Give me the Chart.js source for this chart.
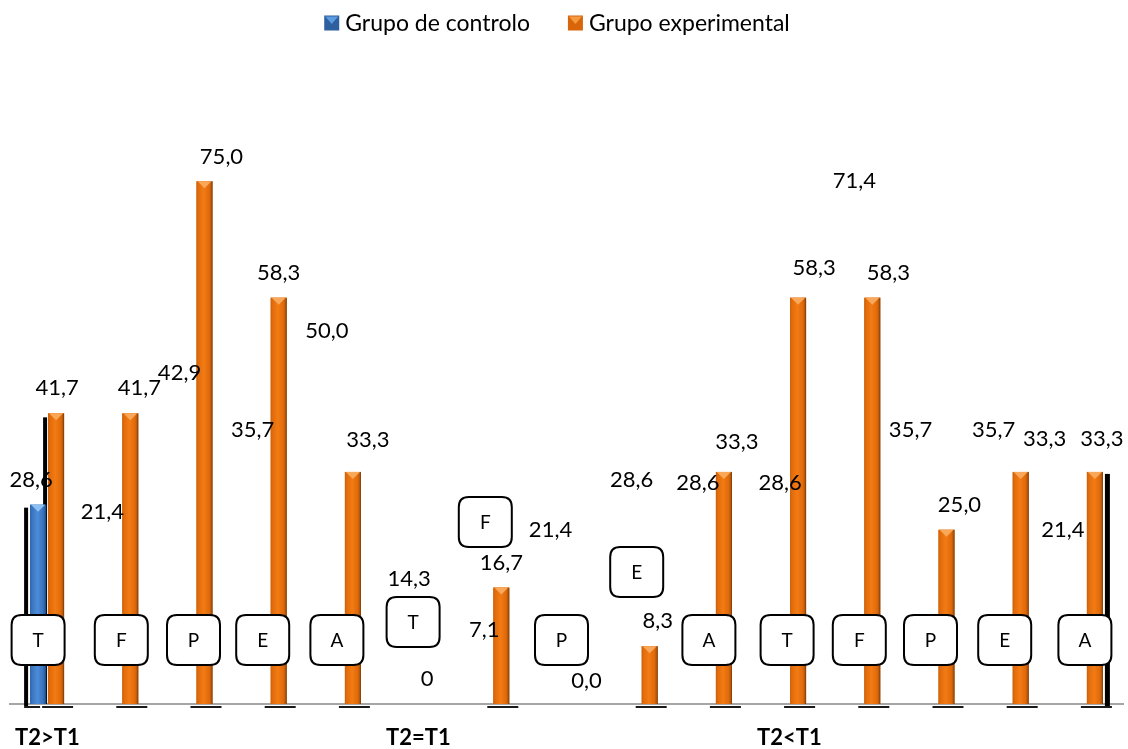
<!DOCTYPE html>
<html>
<head>
<meta charset="utf-8">
<script src="https://cdn.jsdelivr.net/npm/chart.js@4.4.1/dist/chart.umd.min.js"></script>
<style>
  html, body { margin: 0; padding: 0; background: #ffffff; }
  #wrap { width: 1128px; height: 749px; position: relative; }
</style>
</head>
<body>
<div id="wrap"><canvas id="chart" width="1128" height="749"></canvas></div>
<script>
// ---- data -------------------------------------------------------------
const categories = ['T', 'F', 'P', 'E', 'A', 'T', 'F', 'P', 'E', 'A', 'T', 'F', 'P', 'E', 'A'];
const groupNames = ['T2>T1', 'T2=T1', 'T2<T1'];
const groupSize = 5;
const seriesNames = ['Grupo de controlo', 'Grupo experimental'];
const controlValues = [28.6, 21.4, 42.9, 35.7, 50.0, 14.3, 7.1, 21.4, 28.6, 28.6, 28.6, 71.4, 35.7, 35.7, 21.4];
const experimentalValues = [41.7, 41.7, 75.0, 58.3, 33.3, 0, 16.7, 0.0, 8.3, 33.3, 58.3, 58.3, 25.0, 33.3, 33.3];
// values printed without a decimal place
const experimentalWholeLabels = [5];

// ---- layout -----------------------------------------------------------
// nudges [dx, dy] (px) of each value label from its default spot above the bar
const controlLabelShift = [[-7, 0], [-10, -18], [-7, -7], [-8, 0], [-8, 0], [0, 0], [1, 0], [-7, 0],
                           [0, 0], [-8, 3], [0, 3], [0, 0], [-18, 0], [-9, 0], [-14, 0]];
const experimentalLabelShift = [[1, 0], [9, 0], [17, 1], [0, 0], [15, -7], [0, 0], [0, 0], [11, 2],
                                [8, 0], [13, -5], [16, -5], [16, 0], [13, 0], [24, -8], [7, -8]];
// category tag boxes: horizontal nudge and height of the box centre above the axis (px)
const tagShiftX = [-9, 0, -2, -7, -7, -5, -7, -5, -4, -6, -2, -4, -7, -7, -1];
const tagLift = [64, 64, 64, 64, 64, 82, 182, 64, 132, 64, 64, 64, 64, 64, 64];

const FONT = 'Lato, "Open Sans", sans-serif';
const BLUE = '#3A74BE';
const ORANGE = '#E46C0A';

const palettes = {
  control: {
    stops: [[0, '#2F63A8'], [0.12, '#3A74BE'], [0.45, '#4C8CD8'], [0.8, '#3A74BE'], [0.92, '#2D5E9E'], [1, '#1F4273']],
    bevel: '#8DC0F2', key: '#2E5F9E', keyTop: '#5B9BE0'
  },
  experimental: {
    stops: [[0, '#C9600A'], [0.12, '#E26C0C'], [0.45, '#F27B14'], [0.8, '#E06A0A'], [0.92, '#B5560A'], [1, '#6E3505']],
    bevel: '#F9A85A', key: '#D8650A', keyTop: '#F59A40'
  }
};

const fmt = (v, whole) => whole ? String(Math.round(v)) : v.toFixed(1).replace('.', ',');

function barBox(el) {
  const p = el.getProps(['x', 'y', 'base', 'width'], true);
  return { x: p.x, top: Math.min(p.y, p.base), bottom: Math.max(p.y, p.base), w: p.width };
}

function roundRect(ctx, x, y, w, h, r) {
  ctx.beginPath();
  ctx.moveTo(x + r, y);
  ctx.lineTo(x + w - r, y);
  ctx.quadraticCurveTo(x + w, y, x + w, y + r);
  ctx.lineTo(x + w, y + h - r);
  ctx.quadraticCurveTo(x + w, y + h, x + w - r, y + h);
  ctx.lineTo(x + r, y + h);
  ctx.quadraticCurveTo(x, y + h, x, y + h - r);
  ctx.lineTo(x, y + r);
  ctx.quadraticCurveTo(x, y, x + r, y);
  ctx.closePath();
}

function barVisible(dsIndex, i) {
  if (dsIndex === 0) return i === 0;
  return experimentalValues[i] > 0;
}

const decorations = {
  id: 'decorations',
  beforeDatasetsDraw(chart) {
    const ctx = chart.ctx;
    const base = chart.scales.y.getPixelForValue(0);
    const first0 = barBox(chart.getDatasetMeta(0).data[0]);
    const first1 = barBox(chart.getDatasetMeta(1).data[0]);
    const lastMeta = chart.getDatasetMeta(1).data;
    const last1 = barBox(lastMeta[lastMeta.length - 1]);
    ctx.save();
    ctx.fillStyle = '#000000';
    // drop shadows along the outer sides of the series
    ctx.fillRect(first0.x - first0.w / 2 - 6, first0.top + 3, 4, base + 2 - first0.top - 3);
    ctx.fillRect(first1.x - first1.w / 2 - 5, first1.top + 4, 4, base - first1.top - 4);
    ctx.fillRect(last1.x + last1.w / 2 + 2, last1.top + 2, 5, base + 2 - last1.top - 2);
    ctx.restore();
  },
  afterDatasetsDraw(chart) {
    const ctx = chart.ctx;
    const xs = chart.scales.x;
    const base = chart.scales.y.getPixelForValue(0);
    const metas = [chart.getDatasetMeta(0), chart.getDatasetMeta(1)];
    const pals = [palettes.control, palettes.experimental];
    ctx.save();

    // cylinder shading and bevelled tops
    metas.forEach((meta, d) => {
      meta.data.forEach((el, i) => {
        if (!barVisible(d, i)) return;
        const b = barBox(el);
        const l = b.x - b.w / 2, r = b.x + b.w / 2, h = b.bottom - b.top;
        const g = ctx.createLinearGradient(l, 0, r, 0);
        pals[d].stops.forEach(([o, c]) => g.addColorStop(o, c));
        ctx.fillStyle = g;
        ctx.fillRect(l, b.top, b.w, h);
        const bh = Math.min(7, h);
        ctx.fillStyle = pals[d].bevel;
        ctx.beginPath();
        ctx.moveTo(l + 1, b.top);
        ctx.lineTo(r - 1, b.top);
        ctx.lineTo(b.x, b.top + bh);
        ctx.closePath();
        ctx.fill();
        // floor mark under the axis
        ctx.fillStyle = '#1a1a1a';
        if (d === 0) ctx.fillRect(b.x - 14, base + 2, 16, 2);
        else ctx.fillRect(b.x - 14, base + 2, 31, 2);
      });
    });

    // category tags
    ctx.font = '19px ' + FONT;
    ctx.textAlign = 'center';
    ctx.textBaseline = 'middle';
    categories.forEach((c, i) => {
      const cx = xs.getPixelForValue(i) + tagShiftX[i];
      const cy = base - tagLift[i];
      roundRect(ctx, cx - 26.5, cy - 25, 53, 50, 10);
      ctx.fillStyle = '#ffffff';
      ctx.fill();
      ctx.lineWidth = 2;
      ctx.strokeStyle = '#000000';
      ctx.stroke();
      ctx.fillStyle = '#000000';
      ctx.fillText(c, cx, cy + 1);
    });

    // value labels
    ctx.font = '22px ' + FONT;
    ctx.fillStyle = '#000000';
    const series = [
      { meta: metas[0], values: controlValues, shift: controlLabelShift, whole: [] },
      { meta: metas[1], values: experimentalValues, shift: experimentalLabelShift, whole: experimentalWholeLabels }
    ];
    series.forEach(s => {
      s.meta.data.forEach((el, i) => {
        const p = el.getProps(['x', 'y'], true);
        const [dx, dy] = s.shift[i];
        ctx.fillText(fmt(s.values[i], s.whole.includes(i)), p.x + dx, p.y - 25 + dy);
      });
    });

    // group captions under the axis
    ctx.font = 'bold 22px ' + FONT;
    ctx.textAlign = 'left';
    groupNames.forEach((g, k) => {
      const x0 = xs.getPixelForValue(k * groupSize) - 32;
      ctx.fillText(g, x0, 738);
    });
    ctx.restore();
  },
  afterDraw(chart) {
    // legend
    const ctx = chart.ctx;
    const pals = [palettes.control, palettes.experimental];
    ctx.save();
    ctx.font = '23px ' + FONT;
    ctx.textBaseline = 'middle';
    ctx.textAlign = 'left';
    const box = 15, gapText = 6, gapItem = 38;
    const widths = seriesNames.map(n => box + gapText + ctx.measureText(n).width);
    const total = widths[0] + gapItem + widths[1];
    let x = 557 - total / 2;
    const cy = 23;
    seriesNames.forEach((n, k) => {
      ctx.fillStyle = pals[k].key;
      ctx.fillRect(x, cy - 7.5, box, box);
      ctx.fillStyle = pals[k].keyTop;
      ctx.beginPath();
      ctx.moveTo(x + 1, cy - 6.5);
      ctx.lineTo(x + box - 1, cy - 6.5);
      ctx.lineTo(x + box / 2, cy + 1);
      ctx.closePath();
      ctx.fill();
      ctx.fillStyle = '#000000';
      ctx.fillText(n, x + box + gapText, cy + 1);
      x += widths[k] + gapItem;
    });
    ctx.restore();
  }
};

new Chart(document.getElementById('chart'), {
  type: 'bar',
  data: {
    labels: categories,
    datasets: [
      {
        label: seriesNames[0],
        data: controlValues,
        backgroundColor: controlValues.map((_, i) => (i === 0 ? BLUE : 'rgba(0,0,0,0)')),
        borderWidth: 0,
        categoryPercentage: 0.485,
        barPercentage: 0.89
      },
      {
        label: seriesNames[1],
        data: experimentalValues,
        backgroundColor: ORANGE,
        borderWidth: 0,
        categoryPercentage: 0.485,
        barPercentage: 0.89
      }
    ]
  },
  options: {
    responsive: false,
    animation: false,
    devicePixelRatio: 1,
    events: [],
    layout: { padding: { top: 146.4, left: 10, right: 5, bottom: 45 } },
    plugins: { legend: { display: false }, tooltip: { enabled: false } },
    scales: {
      x: {
        display: true,
        grid: { display: false, drawTicks: false },
        ticks: { display: false },
        border: { display: true, color: '#A6A6A6', width: 2 }
      },
      y: { display: false, min: 0, max: 80 }
    }
  },
  plugins: [decorations]
});
</script>
</body>
</html>
